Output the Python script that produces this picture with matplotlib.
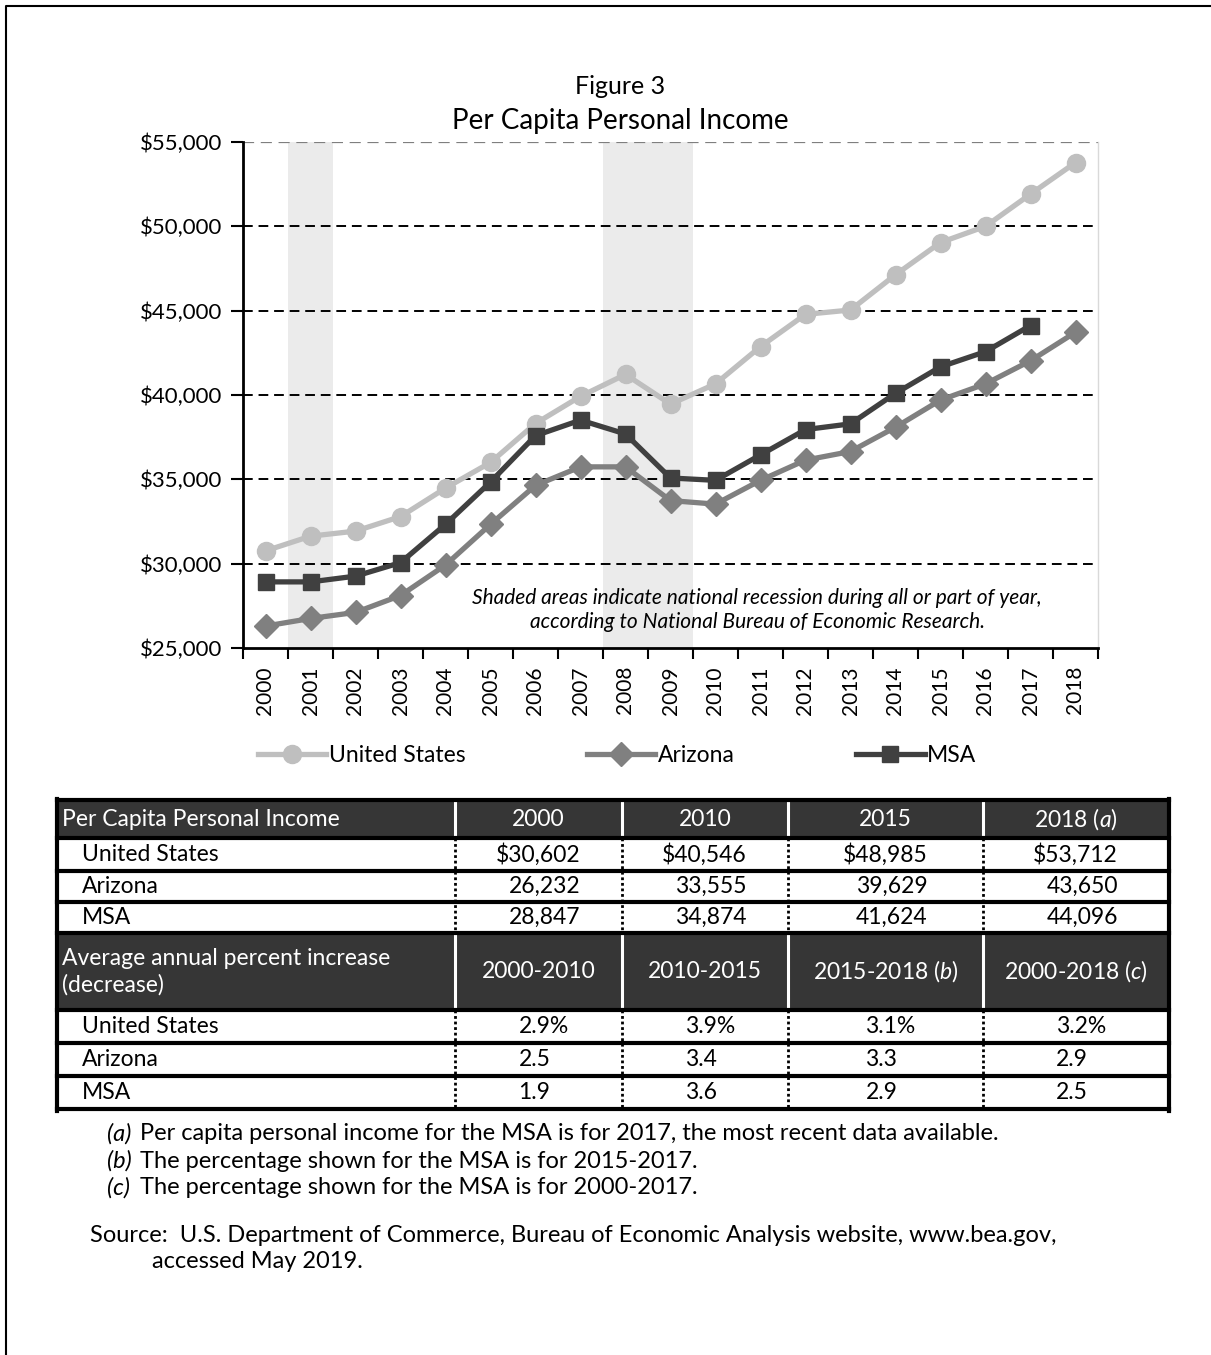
import matplotlib
matplotlib.use('Agg')
import matplotlib.pyplot as plt
from matplotlib.patches import Rectangle
from matplotlib.lines import Line2D
import numpy as np

plt.rcParams['font.family'] = ['Lato', 'DejaVu Sans']
plt.rcParams['mathtext.fontset'] = 'custom'
plt.rcParams['mathtext.rm'] = 'Lato'
plt.rcParams['mathtext.it'] = 'Lato:italic'

# ---------------- data ----------------
years = list(range(2000, 2019))
us = [30760, 31630, 31930, 32790, 34480, 36000, 38310, 39920, 41220, 39460,
      40660, 42870, 44780, 45040, 47130, 49040, 50000, 51910, 53780]
arizona = [26300, 26750, 27110, 28110, 29920, 32330, 34640, 35740, 35740, 33740,
           33530, 34940, 36140, 36650, 38090, 39700, 40660, 42030, 43720]
msa = [28920, 28920, 29260, 30060, 32330, 34840, 37590, 38510, 37690, 35080,
       34940, 36450, 37950, 38290, 40100, 41670, 42570, 44120]  # through 2017
recessions = [(2001, 2001), (2008, 2009)]
y_ticks = [25000, 30000, 35000, 40000, 45000, 50000, 55000]
series_names = ['United States', 'Arizona', 'MSA']

table_head1 = ['Per Capita Personal Income', '2000', '2010', '2015', '2018 $\\mathit{(a)}$']
table_head2 = ['Average annual percent increase\n(decrease)', '2000-2010', '2010-2015',
               '2015-2018 $\\mathit{(b)}$', '2000-2018 $\\mathit{(c)}$']
row_names = ['United States', 'Arizona', 'MSA']
income_us = [30602, 40546, 48985, 53712]
income_az = [26232, 33555, 39629, 43650]
income_msa = [28847, 34874, 41624, 44096]
pct_us = [2.9, 3.9, 3.1, 3.2]
pct_az = [2.5, 3.4, 3.3, 2.9]
pct_msa = [1.9, 3.6, 2.9, 2.5]

notes_tag = ['(a)', '(b)', '(c)']
notes_txt = ['Per capita personal income for the MSA is for 2017, the most recent data available.',
             'The percentage shown for the MSA is for 2015-2017.',
             'The percentage shown for the MSA is for 2000-2017.']
source_1 = 'Source:  U.S. Department of Commerce, Bureau of Economic Analysis website, www.bea.gov,'
source_2 = 'accessed May 2019.'

# ---------------- figure ----------------
W, H = 1211, 1355
fig = plt.figure(figsize=(W / 100, H / 100), dpi=100)
fig.patch.set_facecolor('white')
FS = 16.5
FN = 17


def fx(x):
    return x / W


def fy(y):
    return 1 - y / H


# outer frame (left and top visible)
fig.add_artist(Line2D([fx(6), fx(6), fx(W + 5)], [fy(H + 5), fy(6), fy(6)],
                      transform=fig.transFigure, color='black', lw=1.5))

# title
fig.text(fx(620), fy(87), 'Figure 3', ha='center', va='center', fontsize=18)
fig.text(fx(620), fy(121), 'Per Capita Personal Income', ha='center', va='center', fontsize=20)

# ---------------- chart ----------------
L, R, T, B = 243, 1098, 142, 648
ax = fig.add_axes([fx(L), fy(B), (R - L) / W, (B - T) / H])
x = np.arange(len(years))

for a, b in recessions:
    ax.axvspan(years.index(a) - 0.5, years.index(b) + 0.5, color='#EBEBEB', lw=0, zorder=0)

for v in y_ticks[1:-1]:
    ax.axhline(v, color='black', lw=1.4, ls=(0, (5, 3)), zorder=1)
ax.axhline(y_ticks[-1], color='#7F7F7F', lw=1.6, ls=(0, (5, 3)), zorder=1)

l1, = ax.plot(x, us, color='#BFBFBF', lw=3.8, marker='o', ms=13, zorder=3)
l2, = ax.plot(x, arizona, color='#808080', lw=3.8, marker='D', ms=12, zorder=4)
l3, = ax.plot(x[:len(msa)], msa, color='#404040', lw=3.8, marker='s', ms=12, zorder=5)

ax.set_xlim(-0.5, len(years) - 0.5)
ax.set_ylim(y_ticks[0], y_ticks[-1])
ax.set_yticks(y_ticks)
ax.set_yticklabels([f'${v:,}' for v in y_ticks], fontsize=16)
ax.tick_params(axis='y', length=9, width=1.5, pad=6, direction='out')
ax.set_xticks(x)
ax.set_xticklabels([str(y) for y in years], rotation=90, fontsize=15)
ax.tick_params(axis='x', which='major', length=0, pad=13)
ax.set_xticks(np.arange(-0.5, len(years), 1), minor=True)
ax.tick_params(axis='x', which='minor', length=8, width=1.5, direction='out')
for s in ['left', 'bottom']:
    ax.spines[s].set_linewidth(2)
    ax.spines[s].set_color('black')
ax.spines['top'].set_visible(False)
ax.spines['right'].set_color('#D9D9D9')
ax.spines['right'].set_linewidth(1)

fig.text(fx(757), fy(598), 'Shaded areas indicate national recession during all or part of year,',
         ha='center', va='center', fontsize=15, style='italic')
fig.text(fx(757), fy(622), 'according to National Bureau of Economic Research.',
         ha='center', va='center', fontsize=15, style='italic')

fig.legend([l1, l2, l3], series_names, loc='center', bbox_to_anchor=(fx(617), fy(756)),
           ncol=3, frameon=False, fontsize=FS, handlelength=3.0, handletextpad=0.1,
           columnspacing=5.3)

# ---------------- table ----------------
cols = [57, 455, 622, 788, 983, 1169]
rows = [800, 838, 871, 902, 933, 1010, 1043, 1076, 1109]
dark = '#363636'


def rect(x0, y0, x1, y1, color):
    fig.add_artist(Rectangle((fx(x0), fy(y1)), fx(x1) - fx(x0), fy(y0) - fy(y1),
                             transform=fig.transFigure, facecolor=color, edgecolor='none'))


def hline(y, x0, x1, lw=3, color='black'):
    fig.add_artist(Line2D([fx(x0), fx(x1)], [fy(y), fy(y)], transform=fig.transFigure,
                          color=color, lw=lw))


def vline(x0, y0, y1, lw=2, color='black', ls='-'):
    fig.add_artist(Line2D([fx(x0), fx(x0)], [fy(y0), fy(y1)], transform=fig.transFigure,
                          color=color, lw=lw, ls=ls))


header_rows = [(rows[0], rows[1], table_head1), (rows[4], rows[5], table_head2)]
for y0, y1, labels in header_rows:
    rect(cols[0], y0, cols[-1], y1, dark)
    for c in cols[1:-1]:
        vline(c, y0 + 2, y1 - 2, lw=2.2, color='white')
    ym = (y0 + y1) / 2
    fig.text(fx(cols[0] + 5), fy(ym), labels[0], ha='left', va='center', color='white',
             fontsize=FS, linespacing=1.3)
    for i, lab in enumerate(labels[1:]):
        cx = (cols[i + 1] + cols[i + 2]) / 2
        fig.text(fx(cx), fy(ym), lab, ha='center', va='center', color='white',
                 fontsize=FS)

income_rows = [income_us, income_az, income_msa]
pct_rows = [pct_us, pct_az, pct_msa]

for k in range(3):
    # income block
    y0, y1 = rows[1 + k], rows[2 + k]
    ym = (y0 + y1) / 2
    fig.text(fx(cols[0] + 25), fy(ym), row_names[k], ha='left', va='center', fontsize=FS)
    for i, v in enumerate(income_rows[k]):
        cx = (cols[i + 1] + cols[i + 2]) / 2
        s = f'${v:,}' if k == 0 else f'{v:,}'
        fig.text(fx(cx + 42), fy(ym), s, ha='right', va='center', fontsize=FS)
    # percent block
    y0, y1 = rows[5 + k], rows[6 + k]
    ym = (y0 + y1) / 2
    fig.text(fx(cols[0] + 25), fy(ym), row_names[k], ha='left', va='center', fontsize=FS)
    for i, v in enumerate(pct_rows[k]):
        cx = (cols[i + 1] + cols[i + 2]) / 2
        s = f'{v:.1f}%' if k == 0 else f'{v:.1f}'
        fig.text(fx(cx - 20), fy(ym), s, ha='left', va='center', fontsize=FS)

for (ya, yb) in [(rows[1], rows[4]), (rows[5], rows[8])]:
    for c in cols[1:-1]:
        vline(c, ya, yb, lw=2, color='black', ls=(0, (1, 1)))

for y in rows[1:]:
    hline(y, cols[0], cols[-1], lw=3)
hline(rows[0], cols[0], cols[-1], lw=3)
vline(cols[0], rows[0] - 1.5, rows[-1] + 1.5, lw=3)
vline(cols[-1], rows[0] - 1.5, rows[-1] + 1.5, lw=3)

# ---------------- notes ----------------
for i, (tag, txt) in enumerate(zip(notes_tag, notes_txt)):
    yy = 1134 + i * 27
    fig.text(fx(107), fy(yy), tag, ha='left', va='center', fontsize=FN, style='italic')
    fig.text(fx(140), fy(yy), txt, ha='left', va='center', fontsize=FN)
fig.text(fx(90), fy(1235), source_1, ha='left', va='center', fontsize=FN)
fig.text(fx(152), fy(1262), source_2, ha='left', va='center', fontsize=FN)

fig.savefig('out.png', dpi=100, facecolor='white')
